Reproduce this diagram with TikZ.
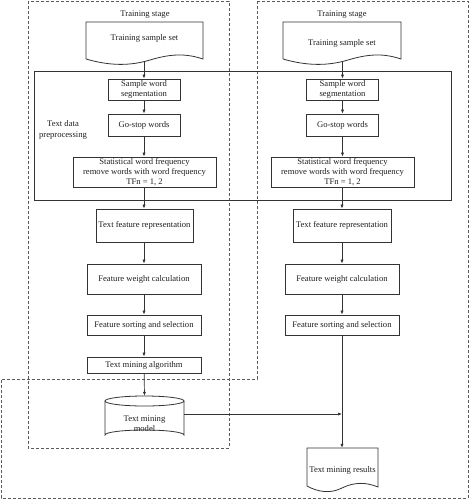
\documentclass[tikz,border=0pt]{standalone}
\usepackage{fontspec}
\setmainfont{Liberation Serif}
\usetikzlibrary{arrows.meta}
\definecolor{ln}{HTML}{333333}
\definecolor{dsh}{HTML}{5a5a5a}
\definecolor{tx}{HTML}{1e1e1e}
\begin{document}
\begin{tikzpicture}[x=1pt,y=-1pt,
  every node/.style={font=\fontsize{8.6}{10.4}\selectfont, text=tx, inner sep=0pt, align=center},
  procbox/.style={draw=ln, line width=0.8pt, rectangle},
  ghost/.style={rectangle},
  flow/.style={draw=ln, line width=0.7pt, -{Latex[length=4pt,width=3.2pt]}},
  stagebox/.style={draw=dsh, line width=0.7pt, dash pattern=on 3pt off 2pt},
  outline/.style={draw=ln, line width=0.8pt}]
\useasboundingbox (0,0) rectangle (471,500);

% dashed stage regions
\draw[stagebox] (28,1) rectangle (229,448);
\draw[stagebox] (257,1) -- (468,1) -- (468,498) -- (1,498) -- (1,379) -- (257,379) -- cycle;

% preprocessing frame
\draw[outline] (34,71) rectangle (451,200);
\node (prelabel) at (63,130) {Text data\\preprocessing};

% stage labels
\node (stage1) at (145,15) {Training stage};
\node (stage2) at (342,15) {Training stage};

% document shapes (training sample set)
\draw[outline] (86,59) -- (86,22) -- (203,22) -- (203,59)
  .. controls (185,53) and (170,54) .. (150,60)
  .. controls (130,66) and (110,66) .. (86,59);
\node[ghost, minimum width=117pt, minimum height=40pt] (doc1) at (144.5,42) {};
\node (doc1t) at (144.5,38) {Training sample set};

\draw[outline] (283,59) -- (283,22) -- (401,22) -- (401,59)
  .. controls (383,53) and (368,54) .. (348,60)
  .. controls (328,66) and (307,66) .. (283,59);
\node[ghost, minimum width=118pt, minimum height=40pt] (doc2) at (342,42) {};
\node (doc2t) at (342,43) {Training sample set};

% left column
\node[procbox, minimum width=72pt, minimum height=21pt] (seg1) at (144,89.5) {Sample word\\segmentation};
\node[procbox, minimum width=72pt, minimum height=22pt] (go1) at (144,125) {Go-stop words};
\node[procbox, minimum width=143pt, minimum height=30pt, font=\fontsize{8.6}{10}\selectfont] (stat1) at (144.5,172) {Statistical word frequency\\remove words with word frequency\\TFn = 1, 2};
\node[procbox, minimum width=97pt, minimum height=33pt] (tfr1) at (144.5,225.5) {Text feature representation};
\node[procbox, minimum width=114pt, minimum height=30pt] (fw1) at (144,279) {Feature weight calculation};
\node[procbox, minimum width=114pt, minimum height=20pt] (fs1) at (144,325) {Feature sorting and selection};
\node[procbox, minimum width=114pt, minimum height=16pt] (alg1) at (144,365) {Text mining algorithm};

% right column
\node[procbox, minimum width=72pt, minimum height=21pt] (seg2) at (342.5,89.5) {Sample word\\segmentation};
\node[procbox, minimum width=72pt, minimum height=22pt] (go2) at (342.5,125) {Go-stop words};
\node[procbox, minimum width=143pt, minimum height=30pt, font=\fontsize{8.6}{10}\selectfont] (stat2) at (342.5,172) {Statistical word frequency\\remove words with word frequency\\TFn = 1, 2};
\node[procbox, minimum width=98pt, minimum height=33pt] (tfr2) at (342,225.5) {Text feature representation};
\node[procbox, minimum width=114pt, minimum height=30pt] (fw2) at (342,279) {Feature weight calculation};
\node[procbox, minimum width=114pt, minimum height=20pt] (fs2) at (342,325) {Feature sorting and selection};

% cylinder: text mining model
\draw[outline] (105,401) -- (105,435) arc[start angle=180, end angle=360, x radius=39.5, y radius=5]
  -- (184,401);
\draw[outline] (144.5,401) ellipse[x radius=39.5, y radius=5];
\node[ghost, minimum width=79pt, minimum height=44pt] (model) at (144.5,418) {};
\node (modelt) at (144.5,423.5) {Text mining\\model};

% results document
\draw[outline] (307,486) -- (307,448) -- (378,448) -- (378,487)
  .. controls (366,482) and (354,482) .. (342,488)
  .. controls (330,494) and (318,492) .. (307,486);
\node[ghost, minimum width=71pt, minimum height=38pt] (res) at (342.5,467) {};
\node (rest) at (342.5,470) {Text mining results};

\coordinate (join) at (342,414);

% connectors
\draw[flow] (144,62) -- (seg1.north);
\draw[flow] (seg1) -- (go1);
\draw[flow] (go1) -- (go1 |- stat1.north);
\draw[flow] (stat1.south -| fs1) -- (tfr1.north -| fs1);
\draw[flow] (tfr1.south -| fw1) -- (fw1.north);
\draw[flow] (fw1) -- (fs1);
\draw[flow] (fs1) -- (alg1);
\draw[flow] (alg1) -- (model.north);

\draw[flow] (342.5,61) -- (seg2.north);
\draw[flow] (seg2) -- (go2);
\draw[flow] (go2) -- (go2 |- stat2.north);
\draw[flow] (stat2.south -| fs2) -- (tfr2.north -| fs2);
\draw[flow] (tfr2) -- (fw2);
\draw[flow] (fw2) -- (fs2);
\draw[flow] (fs2.south) -- (fs2.south |- res.north);
\draw[flow] (model.east |- join) -- (join);
\end{tikzpicture}
\end{document}
